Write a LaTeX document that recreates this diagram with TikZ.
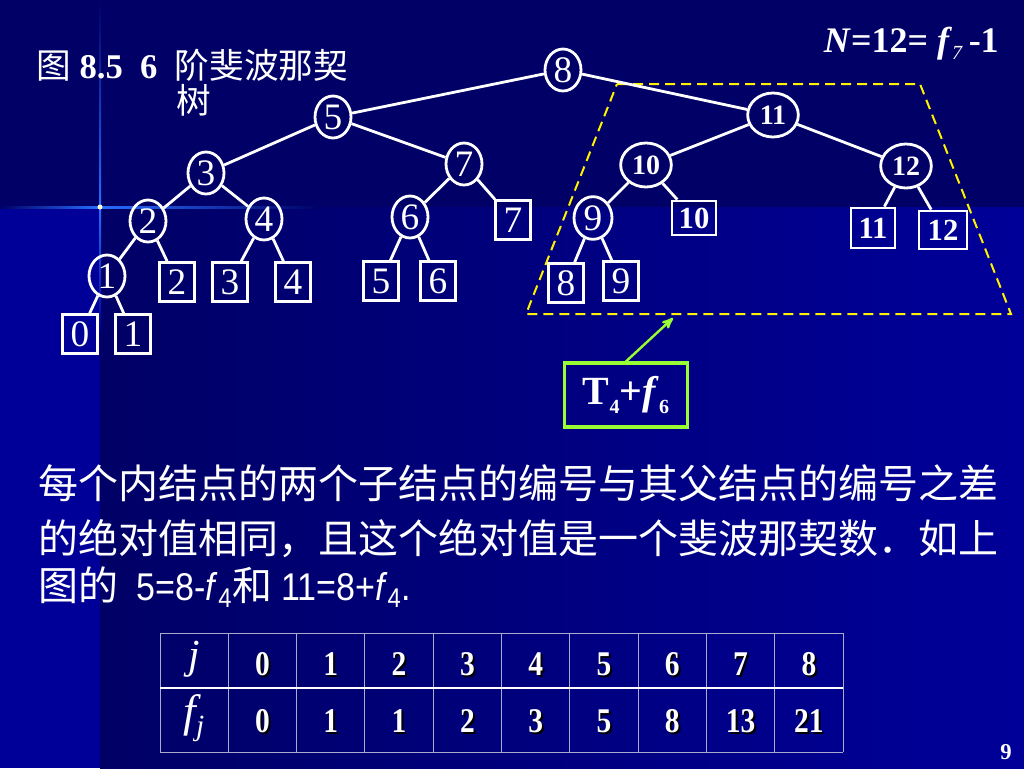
\documentclass[tikz,border=0pt]{standalone}
\usepackage{fontspec}
\setmainfont{Liberation Serif}
\newfontfamily\cjk{Noto Sans CJK SC}
\newfontfamily\narrowsans[FakeStretch=0.88]{Liberation Sans}
\newfontfamily\narrowserif[FakeStretch=0.85]{Liberation Serif}
\usetikzlibrary{arrows,shapes.geometric}
\definecolor{topbg}{RGB}{0,0,102}
\definecolor{lowbg}{RGB}{0,0,153}
\definecolor{flare}{RGB}{40,110,255}
\definecolor{limegreen}{RGB}{153,255,51}
\definecolor{gridgray}{RGB}{170,170,205}
\newcommand\shadowed[1]{\makebox[0pt][l]{\hspace{1.5pt}\raisebox{-1.5pt}{\color{black}#1}}#1}
\newcommand\lowsub[1]{\raisebox{-0.45ex}{\fontsize{15}{15}\selectfont #1}}

\begin{document}
\begin{tikzpicture}[x=0.75pt,y=-0.75pt,>=stealth',
                    inner node/.style={ellipse,draw=white,line width=2.1pt,text=white,inner sep=0pt,
                                       minimum width=27pt,minimum height=31.5pt,font=\fontsize{28}{28}\selectfont},
                    big inner/.style={inner node,minimum width=38pt,minimum height=33pt,font=\bfseries\fontsize{21}{21}\selectfont},
                    leaf/.style={rectangle,draw=white,line width=2.1pt,text=white,inner sep=0pt,
                                 minimum width=26pt,minimum height=29pt,font=\fontsize{28}{28}\selectfont},
                    big leaf/.style={leaf,minimum width=33pt,minimum height=27pt,font=\bfseries\fontsize{23}{23}\selectfont},
                    numcell/.style={text=white,inner sep=0pt,font=\narrowserif\bfseries\fontsize{26}{26}\selectfont},
                    cjkline/.style={anchor=base west,text=white,inner sep=0pt,font=\cjk\fontsize{30}{30}\selectfont}]
\useasboundingbox (0,0) rectangle (1024,768);

% background
\fill[topbg] (0,0) rectangle (1024,207);
\fill[lowbg] (0,207) rectangle (100,768);
\shade[left color=topbg,right color=lowbg] (100,207) rectangle (1024,768);
\shade[top color=topbg,bottom color=flare] (99,0) rectangle (101,207);
\shade[top color=flare,bottom color=lowbg] (99,207) rectangle (101,330);
\shade[left color=topbg,right color=flare] (0,206) rectangle (100,208);
\shade[left color=flare,right color=topbg] (100,206) rectangle (320,208);
\fill[yellow!25!white] (100,207) circle (2.5);

% titles
\node[anchor=base west,inner sep=0pt,text=white,font=\fontsize{26}{26}\selectfont] (caption) at (36,78)
     {{\cjk 图} \textbf{8.5}\ \ \textbf{6}\ \ {\cjk 阶斐波那契}};
\node[anchor=base west,inner sep=0pt,text=white,font=\cjk\fontsize{26}{26}\selectfont] (caption2) at (176,113) {树};
\node[anchor=base east,inner sep=0pt,text=white,font=\bfseries\fontsize{27}{27}\selectfont] (count) at (999,52)
     {\textit{N}=12= \textit{f}\lowsub{\mdseries\textit{7}}\,-1};

% subtree T4 + f6
\draw[yellow,dashed,dash pattern=on 7.5pt off 4.5pt,line width=1.5pt]
     (617,84) -- (920,84) -- (1011,314) -- (526,314) -- cycle;

% internal nodes
\node[inner node] (i8) at (563,70) {8};
\node[inner node] (i5) at (333,117) {5};
\node[inner node] (i3) at (206,173) {3};
\node[inner node] (i7) at (464,164) {7};
\node[inner node] (i2) at (148,221) {2};
\node[inner node] (i4) at (264,219) {4};
\node[inner node] (i6) at (410,217) {6};
\node[inner node] (i1) at (107,276) {1};
\node[big inner] (i11) at (773,115) {11};
\node[big inner] (i10) at (646,165) {10};
\node[big inner] (i12) at (906,166) {12};
\node[inner node,minimum width=28.5pt,minimum height=32pt] (i9) at (593,218) {9};

% external nodes
\node[leaf] (e0) at (80,334) {0};
\node[leaf] (e1) at (133,334) {1};
\node[leaf] (e2) at (177,282) {2};
\node[leaf] (e3) at (230,282) {3};
\node[leaf] (e4) at (293,282) {4};
\node[leaf] (e5) at (381,281) {5};
\node[leaf] (e6) at (438,281) {6};
\node[leaf] (e7) at (513,220) {7};
\node[leaf] (e8) at (566,283) {8};
\node[leaf] (e9) at (621,281) {9};
\node[big leaf,minimum height=25.5pt] (e10) at (694,218) {10};
\node[big leaf,minimum height=30pt] (e11) at (873,228) {11};
\node[big leaf,minimum width=36pt,minimum height=28.5pt] (e12) at (943,230) {12};

\path[draw=white,line width=2.1pt]
(i8) edge (i5)
     edge (i11)
(i5) edge (i3)
     edge (i7)
(i3) edge (i2)
     edge (i4)
(i2) edge (i1)
     edge (e2)
(i1) edge (e0)
     edge (e1)
(i4) edge (e3)
     edge (e4)
(i7) edge (i6)
     edge (e7)
(i6) edge (e5)
     edge (e6)
(i11) edge (i10)
      edge (i12)
(i10) edge (i9)
      edge (e10)
(i9) edge (e8)
     edge (e9)
(i12) edge (e11)
      edge (e12);

% pointer box
\node[draw=limegreen,line width=2.4pt,minimum width=92pt,minimum height=48pt,text=white,
      font=\bfseries\fontsize{30}{30}\selectfont] (tsum) at (626,395)
     {T\lowsub{4}+\textit{f}\lowsub{6}};
\coordinate (ptr) at (673,318);
\draw[->,limegreen,line width=1.8pt] (tsum.north) -- (ptr);

% remark
\node[cjkline] (line1) at (38,498) {每个内结点的两个子结点的编号与其父结点的编号之差};
\node[cjkline] (line2) at (38,553) {的绝对值相同，且这个绝对值是一个斐波那契数．如上};
\node[cjkline] (line3) at (38,600)
     {图的\hspace{14pt}{\narrowsans\fontsize{29}{29}\selectfont 5=8-\textit{f}\textsubscript{4}}和 {\narrowsans\fontsize{29}{29}\selectfont 11=8+\textit{f}\textsubscript{4}.}};

% table of fibonacci numbers
\foreach \k in {0,...,10}
  \draw[gridgray,line width=0.75pt] (160+68.3*\k,633) -- (160+68.3*\k,752);
\draw[gridgray,line width=0.75pt] (160,633) -- (843,633) (160,752) -- (843,752);
\draw[white,line width=1.5pt] (160,688) -- (843,688);
\node[text=white,font=\itshape\fontsize{31}{31}\selectfont] (jhead) at (194,659) {j};
\node[text=white,font=\itshape\fontsize{34}{34}\selectfont] (fhead) at (194,718) {f\lowsub{\fontsize{22}{22}\selectfont j}};
\foreach \jv [count=\i from 0] in {0,1,2,3,4,5,6,7,8}
  \node[numcell] (j\i) at (262.5+68.3*\i,665) {\shadowed{\jv}};
\foreach \fv [count=\i from 0] in {0,1,1,2,3,5,8,13,21}
  \node[numcell] (f\i) at (262.5+68.3*\i,722) {\shadowed{\fv}};

\node[text=white,font=\bfseries\fontsize{17}{17}\selectfont] (pageno) at (1006,752) {9};
\end{tikzpicture}
\end{document}
